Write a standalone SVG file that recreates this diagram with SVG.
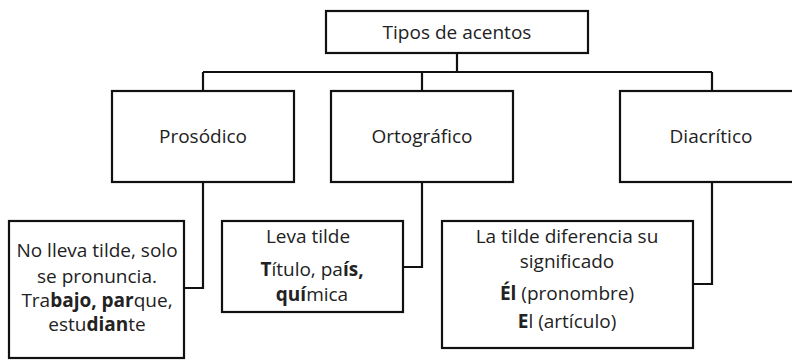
<svg xmlns="http://www.w3.org/2000/svg" width="792" height="361" viewBox="0 0 792 361">
<style>
.box{fill:#fff;stroke:#111;stroke-width:2.2}
.ln{fill:none;stroke:#111;stroke-width:2.2}
text{font-family:"Open Sans","Noto Sans","DejaVu Sans",sans-serif;fill:#222;text-anchor:middle}
.h{font-size:19px}
.t{font-size:19px}
.b{font-weight:bold}
</style>
<rect width="792" height="361" fill="#fff"/>
<g id="connectors">
<path class="ln" d="M457 53 V72 M203 72 H712 M203 72 V91 M422 72 V91 M712 72 V91"/>
<path class="ln" d="M203 182 V288 H184"/>
<path class="ln" d="M422 182 V267 H403"/>
<path class="ln" d="M712 182 V284 H693"/>
</g>
<g id="tipos">
<rect class="box" x="326" y="11" width="262" height="42"/>
<text class="h" x="457" y="39">Tipos de acentos</text>
</g>
<g id="prosodico">
<rect class="box" x="112" y="91" width="182" height="91"/>
<text class="h" x="203" y="143">Prosódico</text>
</g>
<g id="ortografico">
<rect class="box" x="331" y="91" width="182" height="91"/>
<text class="h" x="422" y="143">Ortográfico</text>
</g>
<g id="diacritico">
<rect class="box" x="620" y="91" width="184" height="91"/>
<text class="h" x="711" y="143">Diacrítico</text>
</g>
<g id="prosodico-desc">
<rect class="box" x="9" y="221" width="175" height="137"/>
<text class="t" x="97" y="257">No lleva tilde, solo</text>
<text class="t" x="97" y="283">se pronuncia.</text>
<text class="t" x="97" y="307">Tra<tspan class="b">bajo,</tspan> <tspan class="b">par</tspan>que,</text>
<text class="t" x="97" y="331">estu<tspan class="b">dian</tspan>te</text>
</g>
<g id="ortografico-desc">
<rect class="box" x="222" y="221" width="181" height="91"/>
<text class="t" x="308" y="243">Leva tilde</text>
<text class="t" x="312" y="276"><tspan class="b">T</tspan>ítulo, pa<tspan class="b">ís,</tspan></text>
<text class="t" x="312" y="301"><tspan class="b">quí</tspan>mica</text>
</g>
<g id="diacritico-desc">
<rect class="box" x="442" y="221" width="251" height="127"/>
<text class="t" x="567" y="243">La tilde diferencia su</text>
<text class="t" x="567" y="268">significado</text>
<text class="t" x="567" y="300"><tspan class="b">Él</tspan> (pronombre)</text>
<text class="t" x="567" y="328"><tspan class="b">E</tspan>l (artículo)</text>
</g>
</svg>
